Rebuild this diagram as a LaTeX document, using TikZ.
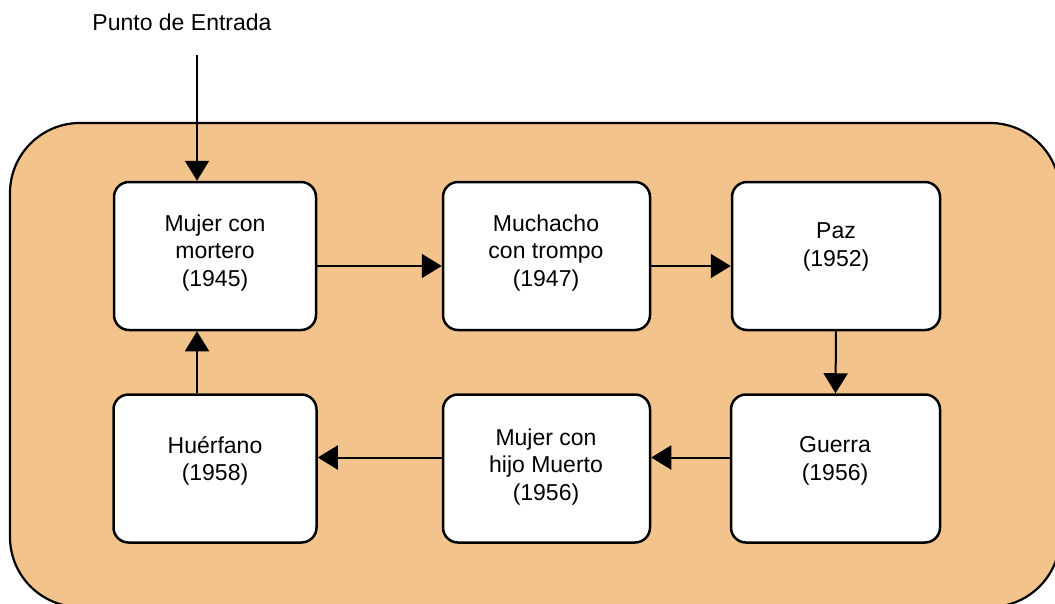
\documentclass[tikz,border=0pt]{standalone}
\usepackage{fontspec}
\setmainfont{Liberation Sans}
\usetikzlibrary{arrows.meta}
\definecolor{panel}{RGB}{242,196,140}
\begin{document}
\begin{tikzpicture}[x=1pt,y=-1pt,
  stagebox/.style={draw=black,line width=2.5pt,fill=white,rounded corners=15pt,
    minimum width=205pt,minimum height=148pt,inner sep=0pt},
  lbl/.style={align=center,inner sep=0pt,font=\fontsize{23}{27.5}\selectfont},
  flow/.style={line width=2pt,-{Triangle[length=20pt,width=24pt]}}]
\useasboundingbox (0,0) rectangle (1055,603);
\begin{scope}
  \clip (0,0) rectangle (1055,603);
  \draw[line width=2.2pt,fill=panel,rounded corners=70pt] (10,123) rectangle (1060,607);
\end{scope}
% title
\node[lbl,anchor=base] (title) at (182,30) {Punto de Entrada};
\coordinate (entry) at (197,55);
% stage boxes
\node[stagebox,minimum width=202pt] (b1) at (215,256) {};
\node[stagebox,minimum width=207pt] (b2) at (546.5,256) {};
\node[stagebox,minimum width=208pt] (b3) at (836,256) {};
\node[stagebox,minimum width=209pt] (b4) at (835.5,468.5) {};
\node[stagebox,minimum width=207pt] (b5) at (546.5,468.5) {};
\node[stagebox,minimum width=203pt] (b6) at (215,468.5) {};
% texts
\node[lbl] (t1) at (215,253) {Mujer con\\mortero\\(1945)};
\node[lbl] (t2) at (546,253) {Muchacho\\con trompo\\(1947)};
\node[lbl] (t3) at (836,247) {Paz\\(1952)};
\node[lbl] (t4) at (835,461) {Guerra\\(1956)};
\node[lbl] (t5) at (546,467) {Mujer con\\hijo Muerto\\(1956)};
\node[lbl] (t6) at (215,461) {Huérfano\\(1958)};
% connectors
\draw[flow] (entry) -- ([xshift=-18pt]b1.north);
\draw[flow] ([yshift=-10pt]b1.east) -- ([yshift=-10pt]b2.west);
\draw[flow] ([yshift=-10pt]b2.east) -- ([yshift=-10pt]b3.west);
\draw[flow] (b3.south) -- (b4.north);
\draw[flow] ([yshift=11pt]b4.west) -- ([yshift=11pt]b5.east);
\draw[flow] ([yshift=11pt]b5.west) -- ([yshift=11pt]b6.east);
\draw[flow] ([xshift=-18pt]b6.north) -- ([xshift=-18pt]b1.south);
\end{tikzpicture}
\end{document}
